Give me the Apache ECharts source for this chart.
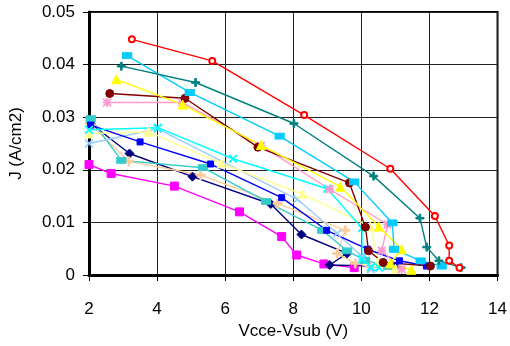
<!DOCTYPE html>
<html>
<head>
<meta charset="utf-8">
<script src="https://cdn.jsdelivr.net/npm/echarts@6/dist/echarts.min.js"></script>
<style>
  html, body { margin: 0; padding: 0; background: #fff; }
  #chart { width: 510px; height: 346px; }
</style>
</head>
<body>
<div id="chart"></div>
<script>
// [Vcce-Vsub, J] pairs per curve
const redCurve = [[3.26, 0.0448], [5.62, 0.0407], [8.32, 0.0304], [10.85, 0.0202], [12.16, 0.0112], [12.58, 0.0056], [12.58, 0.0027], [12.88, 0.0014]]
const tealCurve = [[2.95, 0.0397], [5.13, 0.0366], [8.02, 0.0288], [10.36, 0.0188], [11.72, 0.0108], [11.92, 0.0053], [12.28, 0.0027], [12.93, 0.0014]]
const skyCurve = [[3.12, 0.0417], [4.96, 0.0347], [7.60, 0.0264], [9.79, 0.0177], [10.91, 0.0099], [10.96, 0.0049], [11.74, 0.0027], [12.36, 0.0017]]
const yellowCurve = [[2.80, 0.0372], [4.75, 0.0324], [7.05, 0.0247], [9.38, 0.0168], [10.51, 0.0092], [11.18, 0.0049], [10.85, 0.0022], [11.47, 0.0010]]
const darkRedCurve = [[2.61, 0.0345], [4.82, 0.0336], [6.96, 0.0243], [9.65, 0.0175], [10.12, 0.0091], [10.21, 0.0046], [10.64, 0.0024], [12.03, 0.0017]]
const roseCurve = [[2.53, 0.0328], [4.74, 0.0328], [7.05, 0.0246], [9.07, 0.0163], [10.77, 0.0096], [10.60, 0.0046], [11.18, 0.0011]]
const cyanCurve = [[2.00, 0.0276], [4.02, 0.0280], [6.23, 0.0221], [9.00, 0.0164], [10.02, 0.0089], [10.02, 0.0030], [10.28, 0.0015], [10.52, 0.0014]]
const blueCurve = [[2.05, 0.0285], [3.50, 0.0253], [5.57, 0.0211], [7.66, 0.0147], [8.98, 0.0085], [10.18, 0.0049], [11.12, 0.0027], [11.91, 0.0017]]
const navyCurve = [[2.05, 0.0288], [3.19, 0.0231], [5.04, 0.0187], [7.34, 0.0135], [8.24, 0.0077], [9.58, 0.0041], [9.07, 0.0019], [11.0, 0.0016]]
const magentaCurve = [[2.00, 0.0210], [2.65, 0.0193], [4.51, 0.0169], [6.42, 0.0120], [7.66, 0.0073], [8.10, 0.0038], [8.90, 0.0021], [9.79, 0.0014]]
const aquaCurve = [[2.05, 0.0297], [2.95, 0.0218], [5.35, 0.0204], [7.20, 0.0140], [8.85, 0.0085], [9.58, 0.0046], [10.11, 0.0028], [10.79, 0.0016]]
const tanCurve = [[2.05, 0.0286], [3.17, 0.0216], [5.28, 0.0190], [7.54, 0.0136], [9.53, 0.0085], [9.29, 0.0041], [9.82, 0.0022], [10.26, 0.0016]]
const paleBlueCurve = [[2.00, 0.0250], [4.02, 0.0278], [8.12, 0.0144], [9.29, 0.0079], [10.02, 0.0035], [10.28, 0.0011]]
const lightYellowCurve = [[2.00, 0.0269], [3.75, 0.0272], [5.89, 0.0212], [8.27, 0.0154], [10.26, 0.0092], [10.50, 0.0025], [11.00, 0.0012]]

const xTicks = { min: 2, max: 14, step: 2 }
const yTicks = { min: 0, max: 0.05, step: 0.01 }

// excel-ish marker shapes
const plusMark = 'path://M4,0H6V4H10V6H6V10H4V6H0V4H4Z'
const crossMark = 'path://M1,0L5,4L9,0L10,1L6,5L10,9L9,10L5,6L1,10L0,9L4,5L0,1Z'
const starMark = 'path://M4.4,0H5.6V4.4H10V5.6H5.6V10H4.4V5.6H0V4.4H4.4Z M1,0L5,4L9,0L10,1L6,5L10,9L9,10L5,6L1,10L0,9L4,5L0,1Z'

function curve(data, color, symbol, size) {
    return {
        type: 'line',
        data: data,
        symbol: symbol,
        symbolSize: size,
        lineStyle: { color: color, width: 1.4 },
        itemStyle: { color: color, borderColor: color },
        animation: false
    }
}

const chart = echarts.init(document.getElementById('chart'))
chart.setOption({
    animation: false,
    grid: {
        left: 87, right: 12, top: 12, bottom: 71,
        show: true,
        borderColor: '#000',
        borderWidth: 2
    },
    xAxis: {
        type: 'value',
        min: xTicks.min, max: xTicks.max, interval: xTicks.step,
        name: 'Vcce-Vsub (V)',
        nameLocation: 'middle',
        nameGap: 43,
        nameTextStyle: { fontFamily: 'Liberation Sans', fontSize: 17, color: '#000' },
        axisLine: { lineStyle: { color: '#000', width: 3 } },
        axisTick: { show: true, inside: false, length: 6, lineStyle: { color: '#000' } },
        axisLabel: { margin: 26, fontFamily: 'Liberation Sans', fontSize: 17, color: '#000' },
        splitLine: { lineStyle: { color: '#222', width: 1 } }
    },
    yAxis: {
        type: 'value',
        min: yTicks.min, max: yTicks.max, interval: yTicks.step,
        name: 'J (A/cm2)',
        nameLocation: 'middle',
        nameGap: 64,
        nameTextStyle: { fontFamily: 'Liberation Sans', fontSize: 17, color: '#000' },
        axisLine: { show: true, lineStyle: { color: '#000', width: 3 } },
        axisTick: { show: true, inside: false, length: 6, lineStyle: { color: '#000' } },
        axisLabel: {
            margin: 14, fontFamily: 'Liberation Sans', fontSize: 17, color: '#000',
            formatter: v => String(+v.toFixed(2))
        },
        splitLine: { lineStyle: { color: '#222', width: 1 } }
    },
    series: [
        curve(magentaCurve, '#FF00FF', 'rect', 8),
        curve(navyCurve, '#000080', 'diamond', 9),
        curve(tanCurve, '#FFCC99', plusMark, 9),
        curve(aquaCurve, '#33CCCC', 'rect', [9, 6]),
        curve(paleBlueCurve, '#99CCFF', crossMark, 8),
        curve(lightYellowCurve, '#FFFF99', 'triangle', 9),
        curve(blueCurve, '#0000FF', 'rect', 6),
        curve(cyanCurve, '#00FFFF', crossMark, 8),
        curve(roseCurve, '#FF99CC', starMark, 8),
        curve(darkRedCurve, '#800000', 'circle', 8),
        curve(yellowCurve, '#FFFF00', 'triangle', 9),
        curve(skyCurve, '#00CCFF', 'rect', [9, 6]),
        curve(tealCurve, '#008080', plusMark, 8),
        curve(redCurve, '#FF0000', 'emptyCircle', 6)
    ]
})
</script>
</body>
</html>
